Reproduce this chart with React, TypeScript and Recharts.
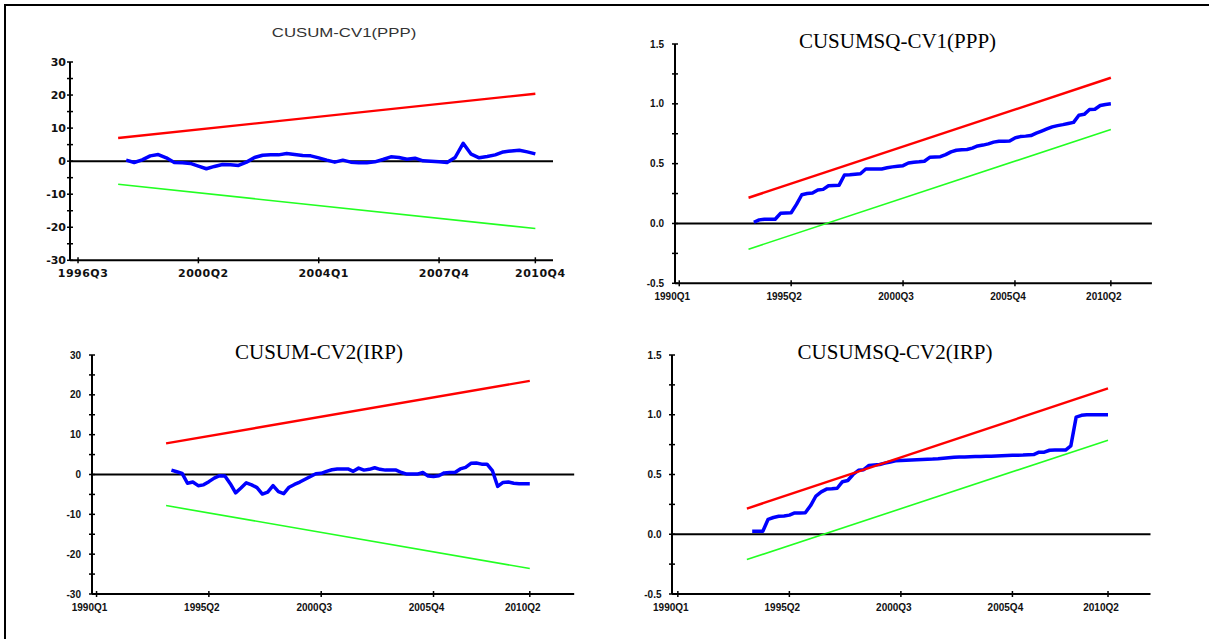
import { LineChart, Line, XAxis, YAxis, ReferenceLine } from 'recharts';

// CUSUM / CUSUMSQ stability tests, quarterly. Values.

const cusumPppStart = '1998Q1';
const cusumPpp = [
  0.3, -0.4, 0.4, 1.6, 2.0, 1.0, -0.4, -0.5, -0.7, -1.5, -2.3, -1.6, -1.0, -1.1, -1.3, -0.3,
  1.1, 1.8, 1.9, 1.9, 2.3, 2.0, 1.7, 1.6, 1.0, 0.3, -0.3, 0.3, -0.3, -0.5, -0.5, -0.2, 0.5,
  1.3, 1.1, 0.6, 0.9, 0.1, 0.0, -0.2, -0.4, 1.1, 5.4, 2.1, 1.0, 1.4, 1.9, 2.8, 3.1, 3.3, 2.8,
  2.2,
];
const cusumPppBoundPeriods = ['1997Q4', '2010Q4'];
const cusumPppUpper = [7.0, 20.4];
const cusumPppLower = [-7.0, -20.4];
const cusumPppTicks = ['1996Q3', '2000Q2', '2004Q1', '2007Q4', '2010Q4'];

const cusumsqPppStart = '1993Q3';
const cusumsqPpp = [
  0.01, 0.03, 0.035, 0.035, 0.035, 0.085, 0.087, 0.09, 0.16, 0.24, 0.25, 0.255, 0.28, 0.285,
  0.315, 0.318, 0.32, 0.405, 0.408, 0.412, 0.416, 0.455, 0.455, 0.455, 0.456, 0.465, 0.473,
  0.478, 0.483, 0.505, 0.512, 0.515, 0.52, 0.553, 0.556, 0.558, 0.575, 0.598, 0.612, 0.617,
  0.618, 0.63, 0.648, 0.655, 0.665, 0.68, 0.688, 0.688, 0.69, 0.715, 0.726, 0.73, 0.735, 0.755,
  0.772, 0.79, 0.807, 0.818, 0.826, 0.836, 0.845, 0.905, 0.912, 0.952, 0.955, 0.986, 0.995, 1.0,
];
const cusumsqPppBoundPeriods = ['1993Q2', '2010Q2'];
const cusumsqPppUpper = [0.215, 1.218];
const cusumsqPppLower = [-0.215, 0.785];

const cusumIrpStart = '1993Q3';
const cusumIrp = [
  1.1, 0.7, 0.3, -2.2, -1.9, -2.8, -2.6, -1.8, -0.9, -0.3, -0.4, -2.3, -4.6, -3.4, -2.1, -2.6,
  -3.3, -4.9, -4.4, -2.8, -4.3, -4.8, -3.2, -2.5, -1.9, -1.2, -0.5, 0.2, 0.3, 0.8, 1.2, 1.4,
  1.4, 1.4, 0.8, 1.6, 1.1, 1.3, 1.7, 1.3, 1.1, 1.1, 1.1, 0.5, 0.1, 0.1, 0.1, 0.5, -0.4, -0.5,
  -0.3, 0.4, 0.5, 0.5, 1.4, 1.8, 2.8, 2.9, 2.6, 2.6, 1.0, -3.0, -2.0, -1.9, -2.2, -2.3, -2.3,
  -2.3,
];
const cusumIrpBoundPeriods = ['1993Q2', '2010Q2'];
const cusumIrpUpper = [7.8, 23.5];
const cusumIrpLower = [-7.8, -23.6];

const cusumsqIrpStart = '1993Q3';
const cusumsqIrp = [
  0.025, 0.025, 0.025, 0.125, 0.14, 0.15, 0.153, 0.16, 0.178, 0.178, 0.18, 0.24, 0.32, 0.355,
  0.378, 0.38, 0.385, 0.44, 0.45, 0.5, 0.535, 0.54, 0.576, 0.58, 0.584, 0.595, 0.605, 0.615,
  0.617, 0.619, 0.621, 0.623, 0.625, 0.627, 0.629, 0.632, 0.636, 0.64, 0.644, 0.646, 0.647,
  0.649, 0.65, 0.651, 0.652, 0.653, 0.655, 0.657, 0.659, 0.661, 0.662, 0.663, 0.665, 0.667,
  0.687, 0.687, 0.703, 0.704, 0.704, 0.705, 0.74, 0.98, 0.995, 1.0, 1.0, 1.0, 1.0, 1.0,
];
const cusumsqIrpBoundPeriods = ['1993Q2', '2010Q2'];
const cusumsqIrpUpper = [0.215, 1.22];
const cusumsqIrpLower = [-0.212, 0.787];

const quarterTicks = ['1990Q1', '1995Q2', '2000Q3', '2005Q4', '2010Q2'];
const cusumYTicks = [-30, -25, -20, -15, -10, -5, 0, 5, 10, 15, 20, 25, 30];
const cusumsqYTicks = [-0.5, -0.25, 0, 0.25, 0.5, 0.75, 1, 1.25, 1.5];

const BLUE = '#0000ff';
const RED = '#ff0000';
const GREEN = '#22ff22';

/** quarters since 1990Q1 */
const qIndex = (s: string) => (Number(s.slice(0, 4)) - 1990) * 4 + Number(s.slice(5)) - 1;

type Row = { q: number; cusum?: number; upper?: number; lower?: number };

function buildRows(start: string, values: number[], periods: string[], upper: number[], lower: number[]) {
  const map = new Map<number, Row>();
  const at = (q: number) => {
    if (!map.has(q)) map.set(q, { q });
    return map.get(q)!;
  };
  values.forEach((v, i) => {
    at(qIndex(start) + i).cusum = v;
  });
  periods.forEach((p, i) => {
    const r = at(qIndex(p));
    r.upper = upper[i];
    r.lower = lower[i];
  });
  return [...map.values()].sort((a, b) => a.q - b.q);
}

type Font = { fontFamily: string; fontSize: number; fontWeight: string | number; letterSpacing?: number };

const SMALL_WIDE: Font = { fontFamily: '"DejaVu Sans", sans-serif', fontSize: 11, fontWeight: 'bold', letterSpacing: 0.5 };
const SMALL_BOLD: Font = { fontFamily: '"Liberation Sans", Arial, sans-serif', fontSize: 10, fontWeight: 'bold' };

type PanelProps = {
  rows: Row[];
  plot: [number, number, number, number];
  xDomain: [number, number];
  xLabels: string[];
  yDomain: [number, number];
  yTicks: number[];
  yStep: number;
  yDigits: number;
  font: Font;
  yGap: number;
  xShift: number;
};

function Panel({ rows, plot, xDomain, xLabels, yDomain, yTicks, yStep, yDigits, font, yGap, xShift }: PanelProps) {
  const [x0, y0, x1, y1] = plot;
  const m = { top: 20, right: 30, bottom: 6, left: 20 };
  const width = x1 - x0 + 90;
  const height = y1 - y0 + 50;

  const yTick = (p: any) => {
    const v = p.payload.value as number;
    const labelled = Math.abs(v / yStep - Math.round(v / yStep)) < 1e-6;
    return (
      <g>
        <line x1={p.x - 3} x2={p.x + 3} y1={p.y} y2={p.y} stroke="#000" strokeWidth={1.5} />
        {labelled && (
          <text x={p.x - yGap} y={p.y} dy="0.36em" textAnchor="end" fill="#111" {...font} letterSpacing={0}>
            {v.toFixed(yDigits)}
          </text>
        )}
      </g>
    );
  };

  const xTick = (p: any) => {
    const label = xLabels.find((l) => qIndex(l) === p.payload.value) ?? '';
    return (
      <g>
        <line x1={p.x} x2={p.x} y1={p.y - 3} y2={p.y + 3} stroke="#000" strokeWidth={1.5} />
        <text x={p.x + xShift} y={p.y + 17} textAnchor="middle" fill="#111" {...font}>
          {label}
        </text>
      </g>
    );
  };

  return (
    <div style={{ position: 'absolute', left: x0 - 60, top: y0 - 20 }}>
      <LineChart width={width} height={height} data={rows} margin={m}>
        <XAxis
          dataKey="q"
          type="number"
          domain={xDomain}
          allowDataOverflow
          ticks={xLabels.map(qIndex)}
          interval={0}
          height={24}
          tickSize={0}
          tickMargin={0}
          tickLine={false}
          axisLine={{ stroke: '#000', strokeWidth: 2 }}
          tick={xTick}
        />
        <YAxis
          type="number"
          domain={yDomain}
          allowDataOverflow
          ticks={yTicks}
          interval={0}
          width={40}
          tickSize={0}
          tickMargin={0}
          tickLine={false}
          axisLine={{ stroke: '#000', strokeWidth: 2 }}
          tick={yTick}
        />
        <ReferenceLine y={0} stroke="#000" strokeWidth={2} />
        <Line
          dataKey="cusum"
          type="linear"
          stroke={BLUE}
          strokeWidth={3.5}
          strokeLinejoin="round"
          dot={false}
          activeDot={false}
          isAnimationActive={false}
        />
        <Line dataKey="upper" type="linear" stroke={RED} strokeWidth={2.4} dot={false} activeDot={false} connectNulls isAnimationActive={false} />
        <Line dataKey="lower" type="linear" stroke={GREEN} strokeWidth={1.6} dot={false} activeDot={false} connectNulls isAnimationActive={false} />
      </LineChart>
    </div>
  );
}

const serifTitle = { fontFamily: '"Liberation Serif", "Times New Roman", serif', fontSize: 21, fill: '#000' };

export default function App() {
  const rowsPpp = buildRows(cusumPppStart, cusumPpp, cusumPppBoundPeriods, cusumPppUpper, cusumPppLower);
  const rowsSqPpp = buildRows(cusumsqPppStart, cusumsqPpp, cusumsqPppBoundPeriods, cusumsqPppUpper, cusumsqPppLower);
  const rowsIrp = buildRows(cusumIrpStart, cusumIrp, cusumIrpBoundPeriods, cusumIrpUpper, cusumIrpLower);
  const rowsSqIrp = buildRows(cusumsqIrpStart, cusumsqIrp, cusumsqIrpBoundPeriods, cusumsqIrpUpper, cusumsqIrpLower);

  return (
    <div style={{ position: 'absolute', left: 0, top: 0, width: 1209, height: 639, background: '#fff', overflow: 'hidden' }}>
      <Panel
        rows={rowsPpp}
        plot={[70, 61.7, 553, 260]}
        xDomain={[25, 85.2]}
        xLabels={cusumPppTicks}
        yDomain={[-30, 30]}
        yTicks={cusumYTicks}
        yStep={10}
        yDigits={0}
        font={SMALL_WIDE}
        yGap={4}
        xShift={5}
      />
      <Panel
        rows={rowsSqPpp}
        plot={[674.6, 44, 1151.5, 283.3]}
        xDomain={[-0.8, 88.7]}
        xLabels={quarterTicks}
        yDomain={[-0.5, 1.5]}
        yTicks={cusumsqYTicks}
        yStep={0.5}
        yDigits={1}
        font={SMALL_BOLD}
        yGap={11}
        xShift={-7}
      />
      <Panel
        rows={rowsIrp}
        plot={[91.8, 355, 574, 594]}
        xDomain={[-0.85, 89.3]}
        xLabels={quarterTicks}
        yDomain={[-30, 30]}
        yTicks={cusumYTicks}
        yStep={10}
        yDigits={0}
        font={SMALL_BOLD}
        yGap={11}
        xShift={-7}
      />
      <Panel
        rows={rowsSqIrp}
        plot={[671.8, 355, 1150.3, 594]}
        xDomain={[-1.1, 89]}
        xLabels={quarterTicks}
        yDomain={[-0.5, 1.5]}
        yTicks={cusumsqYTicks}
        yStep={0.5}
        yDigits={1}
        font={SMALL_BOLD}
        yGap={10.5}
        xShift={-7}
      />
      <svg width={1209} height={639} style={{ position: 'absolute', left: 0, top: 0, pointerEvents: 'none' }}>
        <line x1={4} x2={1209} y1={5} y2={5} stroke="#000" strokeWidth={2} />
        <line x1={5} x2={5} y1={4} y2={639} stroke="#000" strokeWidth={2} />
        <text
          transform="translate(344 37) scale(1.4 1)"
          textAnchor="middle"
          fontFamily='"Liberation Sans", Arial, sans-serif'
          fontSize={12}
          fill="#333"
        >
          CUSUM-CV1(PPP)
        </text>
        <text x={897.5} y={47.5} textAnchor="middle" {...serifTitle}>
          CUSUMSQ-CV1(PPP)
        </text>
        <text x={319} y={359} textAnchor="middle" {...serifTitle}>
          CUSUM-CV2(IRP)
        </text>
        <text x={895} y={359} textAnchor="middle" {...serifTitle}>
          CUSUMSQ-CV2(IRP)
        </text>
      </svg>
    </div>
  );
}
